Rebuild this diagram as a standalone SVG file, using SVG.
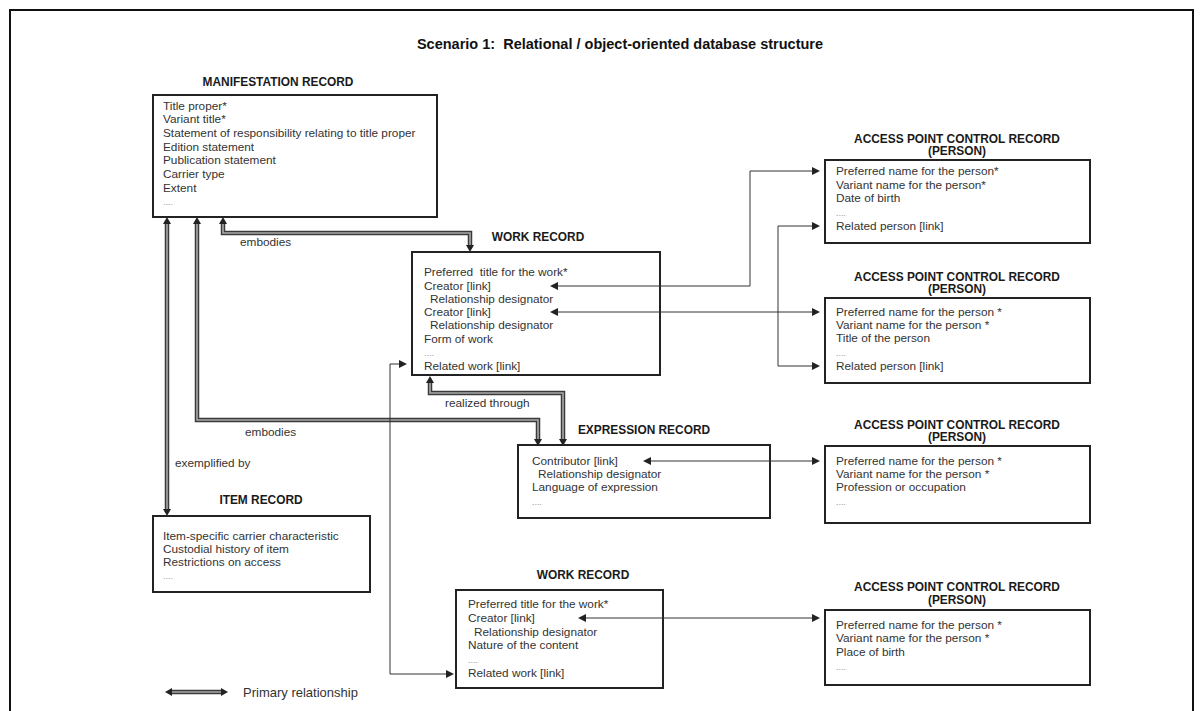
<svg xmlns="http://www.w3.org/2000/svg" width="1202" height="711" viewBox="0 0 1202 711">
  <style>
    text { font-family: "Liberation Sans", Arial, sans-serif; }
    .heading { font-size: 14.5px; font-weight: bold; fill: #111; }
    .title { font-size: 11.9px; font-weight: bold; fill: #1a1a1a; text-anchor: middle; }
    .field { font-size: 11.8px; fill: #333; }
    .dots { font-size: 9px; fill: #999; }
    .label { font-size: 11.8px; fill: #333; }
    .legend-text { font-size: 13px; fill: #333; }
    .box { fill: #fff; stroke: #222; stroke-width: 2; }
    .thin { fill: none; stroke: #333; stroke-width: 1; }
    .primary-outer { fill: none; stroke: #3a3a3a; stroke-width: 4.5; }
    .primary-inner { fill: none; stroke: #aaa; stroke-width: 1.6; }
  </style>
  <defs>
    <marker id="arrow-thin" markerUnits="userSpaceOnUse" markerWidth="8" markerHeight="8" refX="0" refY="3" orient="auto-start-reverse" viewBox="0 0 6 6">
      <path d="M0,0 L6,3 L0,6 Z" fill="#222"/>
    </marker>
    <marker id="arrow-primary" markerUnits="userSpaceOnUse" markerWidth="8" markerHeight="8" refX="0" refY="4" orient="auto-start-reverse" viewBox="0 0 7 8">
      <path d="M0,0 L7,4 L0,8 Z" fill="#222"/>
    </marker>
  </defs>

  <rect width="1202" height="711" fill="#fff"/>
  <path d="M10,711 V10 H1193 V711" fill="none" stroke="#111" stroke-width="2"/>

  <text class="heading" x="620" y="49" text-anchor="middle" xml:space="preserve">Scenario 1:  Relational / object-oriented database structure</text>

  <g id="manifestation-record">
    <text class="title" x="278" y="86">MANIFESTATION RECORD</text>
    <rect class="box" x="153" y="95" width="284" height="122"/>
    <text class="field" x="163" y="109.5">Title proper*</text>
    <text class="field" x="163" y="123.2">Variant title*</text>
    <text class="field" x="163" y="136.9">Statement of responsibility relating to title proper</text>
    <text class="field" x="163" y="150.6">Edition statement</text>
    <text class="field" x="163" y="164.3">Publication statement</text>
    <text class="field" x="163" y="178">Carrier type</text>
    <text class="field" x="163" y="191.7">Extent</text>
    <text class="dots" x="163" y="204.9">....</text>
  </g>

  <g id="work-record-1">
    <text class="title" x="538" y="241">WORK RECORD</text>
    <rect class="box" x="412" y="252" width="248" height="123"/>
    <text class="field" x="424" y="276" xml:space="preserve">Preferred  title for the work*</text>
    <text class="field" x="424" y="290">Creator [link]</text>
    <text class="field" x="430" y="303">Relationship designator</text>
    <text class="field" x="424" y="316">Creator [link]</text>
    <text class="field" x="430" y="329">Relationship designator</text>
    <text class="field" x="424" y="343">Form of work</text>
    <text class="dots" x="424" y="355.5">....</text>
    <text class="field" x="424" y="370">Related work [link]</text>
  </g>

  <g id="access-point-1">
    <text class="title" x="957" y="143">ACCESS POINT CONTROL RECORD</text>
    <text class="title" x="957" y="155">(PERSON)</text>
    <rect class="box" x="825" y="160" width="265" height="83"/>
    <text class="field" x="836" y="175">Preferred name for the person*</text>
    <text class="field" x="836" y="189">Variant name for the person*</text>
    <text class="field" x="836" y="202">Date of birth</text>
    <text class="dots" x="836" y="215.5">....</text>
    <text class="field" x="836" y="230">Related person [link]</text>
  </g>

  <g id="access-point-2">
    <text class="title" x="957" y="281">ACCESS POINT CONTROL RECORD</text>
    <text class="title" x="957" y="293">(PERSON)</text>
    <rect class="box" x="825" y="298" width="265" height="85"/>
    <text class="field" x="836" y="316">Preferred name for the person *</text>
    <text class="field" x="836" y="329">Variant name for the person *</text>
    <text class="field" x="836" y="342">Title of the person</text>
    <text class="dots" x="836" y="355.5">....</text>
    <text class="field" x="836" y="370">Related person [link]</text>
  </g>

  <g id="expression-record">
    <text class="title" x="644" y="434">EXPRESSION RECORD</text>
    <rect class="box" x="518" y="445" width="252" height="73"/>
    <text class="field" x="532" y="465">Contributor [link]</text>
    <text class="field" x="538" y="478">Relationship designator</text>
    <text class="field" x="532" y="491">Language of expression</text>
    <text class="dots" x="532" y="504.5">....</text>
  </g>

  <g id="access-point-3">
    <text class="title" x="957" y="429">ACCESS POINT CONTROL RECORD</text>
    <text class="title" x="957" y="441">(PERSON)</text>
    <rect class="box" x="825" y="446" width="265" height="77"/>
    <text class="field" x="836" y="465">Preferred name for the person *</text>
    <text class="field" x="836" y="478">Variant name for the person *</text>
    <text class="field" x="836" y="491">Profession or occupation</text>
    <text class="dots" x="836" y="504.5">....</text>
  </g>

  <g id="item-record">
    <text class="title" x="261" y="504">ITEM RECORD</text>
    <rect class="box" x="153" y="516" width="217" height="76"/>
    <text class="field" x="163" y="540">Item-specific carrier characteristic</text>
    <text class="field" x="163" y="553">Custodial history of item</text>
    <text class="field" x="163" y="566">Restrictions on access</text>
    <text class="dots" x="163" y="579">....</text>
  </g>

  <g id="work-record-2">
    <text class="title" x="583" y="579">WORK RECORD</text>
    <rect class="box" x="456" y="590" width="207" height="98"/>
    <text class="field" x="468" y="608">Preferred title for the work*</text>
    <text class="field" x="468" y="622">Creator [link]</text>
    <text class="field" x="474" y="636">Relationship designator</text>
    <text class="field" x="468" y="649">Nature of the content</text>
    <text class="dots" x="468" y="662.5">....</text>
    <text class="field" x="468" y="677">Related work [link]</text>
  </g>

  <g id="access-point-4">
    <text class="title" x="957" y="591">ACCESS POINT CONTROL RECORD</text>
    <text class="title" x="957" y="604">(PERSON)</text>
    <rect class="box" x="825" y="610" width="265" height="75"/>
    <text class="field" x="836" y="629">Preferred name for the person *</text>
    <text class="field" x="836" y="642">Variant name for the person *</text>
    <text class="field" x="836" y="656">Place of birth</text>
    <text class="dots" x="836" y="669.5">....</text>
  </g>

  <!-- connectors, drawn over the boxes so link arrows can reach into them -->
  <g id="connectors">
    <!-- primary relationships: outer dark band with a light core -->
    <g id="primary">
      <path class="primary-outer" d="M223,224 V233 H470 V245" marker-start="url(#arrow-primary)" marker-end="url(#arrow-primary)"/>
      <path class="primary-inner" d="M223,224 V233 H470 V245"/>
      <path class="primary-outer" d="M197,224 V420 H538 V439" marker-start="url(#arrow-primary)" marker-end="url(#arrow-primary)"/>
      <path class="primary-inner" d="M197,224 V420 H538 V439"/>
      <path class="primary-outer" d="M167,224 V509" marker-start="url(#arrow-primary)" marker-end="url(#arrow-primary)"/>
      <path class="primary-inner" d="M167,224 V509"/>
      <path class="primary-outer" d="M430,383 V393 H563 V439" marker-start="url(#arrow-primary)" marker-end="url(#arrow-primary)"/>
      <path class="primary-inner" d="M430,383 V393 H563 V439"/>
    </g>
    <!-- links between records -->
    <g id="links">
      <path class="thin" d="M558,286 H750 V171 H812" marker-start="url(#arrow-thin)" marker-end="url(#arrow-thin)"/>
      <path class="thin" d="M558,312 H812" marker-start="url(#arrow-thin)" marker-end="url(#arrow-thin)"/>
      <path class="thin" d="M812,226 H778 V366 H812" marker-start="url(#arrow-thin)" marker-end="url(#arrow-thin)"/>
      <path class="thin" d="M651,461 H812" marker-start="url(#arrow-thin)" marker-end="url(#arrow-thin)"/>
      <path class="thin" d="M586,618 H812" marker-start="url(#arrow-thin)" marker-end="url(#arrow-thin)"/>
      <path class="thin" d="M399,364 H390 V674 H446" marker-start="url(#arrow-thin)" marker-end="url(#arrow-thin)"/>
    </g>
    <text class="label" x="240" y="246">embodies</text>
    <text class="label" x="445" y="407">realized through</text>
    <text class="label" x="245" y="436">embodies</text>
    <text class="label" x="175" y="467">exemplified by</text>
  </g>

  <g id="legend">
    <path class="primary-outer" d="M172,692 H221" marker-start="url(#arrow-primary)" marker-end="url(#arrow-primary)"/>
    <path class="primary-inner" d="M172,692 H221"/>
    <text class="legend-text" x="243" y="697">Primary relationship</text>
  </g>
</svg>
